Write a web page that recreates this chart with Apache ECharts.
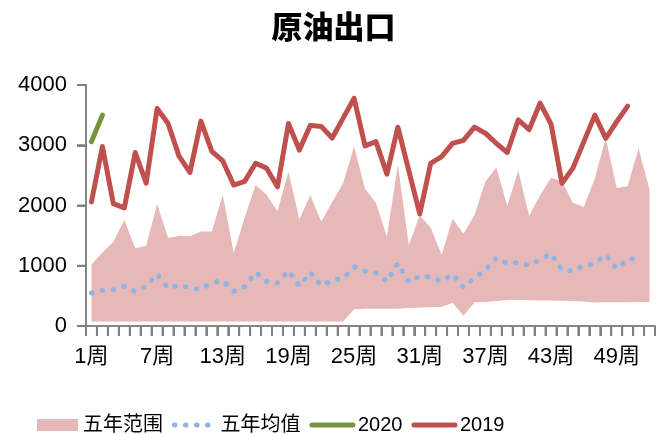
<!DOCTYPE html>
<html lang="zh">
<head>
  <meta charset="UTF-8">
  <title>原油出口</title>
  <style>
    html, body { margin: 0; padding: 0; background: #fff; }
    #main { width: 667px; height: 434px; }
  </style>
</head>
<body>
  <div id="main"></div>
  <script src="https://cdn.jsdelivr.net/npm/echarts@6/dist/echarts.min.js"></script>
  <script>
    // 周次
    var weeks = ['1周','2周','3周','4周','5周','6周','7周','8周','9周','10周','11周','12周','13周',
      '14周','15周','16周','17周','18周','19周','20周','21周','22周','23周','24周','25周','26周',
      '27周','28周','29周','30周','31周','32周','33周','34周','35周','36周','37周','38周','39周',
      '40周','41周','42周','43周','44周','45周','46周','47周','48周','49周','50周','51周','52周'];

    // y轴刻度
    var yTicks = [0, 1000, 2000, 3000, 4000];

    // 五年范围：下沿 / 上沿
    var min5 = [75,75,75,75,75,75,75,75,75,75,75,75,75,75,75,75,75,75,75,75,75,75,75,75,
      280,285,285,285,285,300,305,310,315,387,170,395,400,415,430,430,428,425,422,420,415,405,390,395,395,395,400,400];
    var max5 = [1020,1220,1400,1760,1290,1330,2030,1460,1500,1490,1570,1570,2180,1210,1800,2340,2180,1900,2560,1770,
      2170,1730,2060,2370,2980,2280,2040,1480,2680,1340,1840,1630,1180,1780,1530,1840,2400,2630,1990,2580,
      1830,2170,2460,2400,2040,1980,2450,3120,2290,2320,2950,2260];

    // 五年均值
    var mean5 = [550,590,600,660,570,660,860,630,680,630,610,720,750,575,650,890,740,710,920,665,
      890,670,760,790,980,910,880,740,1040,730,830,810,740,860,640,800,930,1130,1040,1050,
      1010,1100,1200,930,910,1000,1040,1180,950,1100,1130];

    var y2020 = [3060, 3500];

    var y2019 = [2060,2980,2030,1960,2880,2370,3610,3360,2820,2550,3400,2900,2740,2340,2400,2700,2620,2310,3360,2920,
      3330,3310,3120,3450,3780,2990,3060,2520,3300,2580,1860,2700,2810,3030,3080,3300,3200,3030,2880,3420,
      3260,3700,3350,2370,2620,3060,3500,3115,3390,3650];

    var font = 'Liberation Sans, Noto Sans CJK SC, sans-serif';
    var tickColor = '#808080';
    var rangeSpan = max5.map(function (v, i) { return v - min5[i]; });

    function tickLine(x1, y1, x2, y2) {
      return { type: 'line', shape: { x1: x1, y1: y1, x2: x2, y2: y2 }, style: { stroke: tickColor, lineWidth: 2 } };
    }

    // x轴刻度：画在每个分类的边界
    function renderXTick(params, api) {
      var i = api.value(0);
      var p = api.coord([i, 0]);
      var band = api.size([1, 0])[0];
      var left = p[0] - band / 2;
      var kids = [tickLine(left, p[1], left, p[1] + 10)];
      if (i === weeks.length - 1) kids.push(tickLine(left + band, p[1], left + band, p[1] + 10));
      return { type: 'group', children: kids };
    }

    // y轴刻度
    function renderYTick(params, api) {
      var p = api.coord([0, api.value(1)]);
      var band = api.size([1, 0])[0];
      var x = p[0] - band / 2;
      return tickLine(x - 9, p[1], x, p[1]);
    }

    var myChart = echarts.init(document.getElementById('main'));
    var option = {
      animation: false,
      title: {
        text: '原油出口',
        left: 'center',
        top: 6,
        textStyle: { fontFamily: 'Noto Sans CJK SC', fontSize: 31, fontWeight: 900, color: '#000' }
      },
      legend: {
        left: 32,
        top: 410,
        itemWidth: 41,
        itemHeight: 12,
        itemGap: 9,
        textStyle: { fontFamily: font, fontSize: 20, color: '#000' },
        lineStyle: { width: 'inherit', type: 'inherit', cap: 'inherit' },
        data: [
          { name: '五年范围', icon: 'rect' },
          { name: '五年均值', itemStyle: { opacity: 0 } },
          { name: '2020', itemStyle: { opacity: 0 } },
          { name: '2019', itemStyle: { opacity: 0 } }
        ]
      },
      grid: { left: 86, right: 12, top: 85, bottom: 108 },
      xAxis: {
        type: 'category',
        data: weeks,
        axisLine: { show: true, lineStyle: { color: '#868686', width: 2 } },
        axisTick: { show: true, interval: 0, length: 10, lineStyle: { color: tickColor, width: 2 } },
        axisLabel: { interval: 5, margin: 20, fontSize: 22, color: '#000', fontFamily: font }
      },
      yAxis: {
        type: 'value',
        min: 0,
        max: 4000,
        interval: 1000,
        splitLine: { show: false },
        axisLine: { show: true, lineStyle: { color: '#868686', width: 2 } },
        axisTick: { show: true, length: 9, lineStyle: { color: tickColor, width: 2 } },
        axisLabel: {
          margin: 19, fontSize: 22, color: '#000', fontFamily: font,
          formatter: function (v) { return String(v); }
        }
      },
      series: [
        {
          name: '下沿',
          type: 'line',
          stack: 'range',
          data: min5,
          symbol: 'none',
          lineStyle: { width: 0, opacity: 0 },
          silent: true
        },
        {
          name: '五年范围',
          type: 'line',
          stack: 'range',
          data: rangeSpan,
          symbol: 'none',
          itemStyle: { color: '#E6B9B8' },
          lineStyle: { width: 0 },
          areaStyle: { color: '#E6B9B8', opacity: 1 }
        },
        {
          name: '五年均值',
          type: 'line',
          data: mean5,
          symbol: 'none',
          itemStyle: { color: '#8EB4E3' },
          lineStyle: { color: '#8EB4E3', width: 5, type: [0.5, 10.5], cap: 'round' }
        },
        {
          name: '2020',
          type: 'line',
          data: y2020,
          symbol: 'none',
          itemStyle: { color: '#77933C' },
          lineStyle: { color: '#77933C', width: 5, cap: 'round' }
        },
        {
          name: '2019',
          type: 'line',
          data: y2019,
          symbol: 'none',
          itemStyle: { color: '#C0504D' },
          lineStyle: { color: '#C0504D', width: 5, cap: 'round', join: 'round' }
        },
        {
          name: 'x刻度',
          type: 'custom',
          silent: true,
          clip: false,
          renderItem: renderXTick,
          data: weeks.map(function (w, i) { return [i, 0]; })
        },
        {
          name: 'y刻度',
          type: 'custom',
          silent: true,
          clip: false,
          renderItem: renderYTick,
          data: yTicks.map(function (v) { return [0, v]; })
        }
      ]
    };
    myChart.setOption(option);
  </script>
</body>
</html>
